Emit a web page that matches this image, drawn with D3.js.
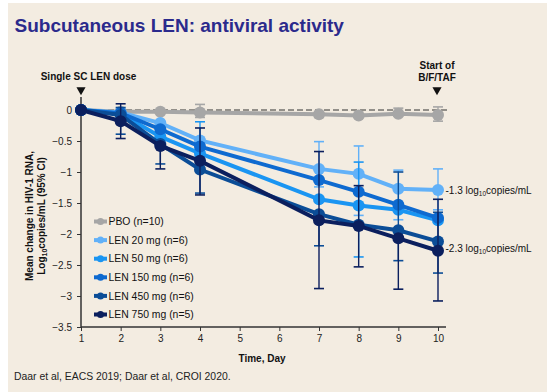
<!DOCTYPE html>
<html><head><meta charset="utf-8">
<script src="https://cdn.jsdelivr.net/npm/d3@7"></script>
<style>body{margin:0;background:#fff}svg{display:block;font-family:Arial,"Liberation Sans",sans-serif}</style>
</head><body><svg id="c" width="550" height="392"></svg>
<script>
const days = [1, 2, 3, 4, 7, 8, 9, 10];
const xTicks = [1, 2, 3, 4, 5, 6, 7, 8, 9, 10];
const yTicks = [0, -0.5, -1, -1.5, -2, -2.5, -3, -3.5];
const seriesNames = ["PBO (n=10)", "LEN 20 mg (n=6)", "LEN 50 mg (n=6)", "LEN 150 mg (n=6)", "LEN 450 mg (n=6)", "LEN 750 mg (n=5)"];
const seriesColors = ["#a6a6a6", "#62b1f8", "#1a95f2", "#0e6ad0", "#0b4d97", "#0b1f5e"];
const pbo    = [0, -0.03, -0.03, -0.04, -0.07, -0.09, -0.06, -0.08];
const len20  = [0, -0.04, -0.21, -0.49, -0.95, -1.03, -1.27, -1.29];
const len50  = [0, -0.06, -0.43, -0.70, -1.44, -1.54, -1.61, -1.78];
const len150 = [0, -0.05, -0.31, -0.59, -1.13, -1.32, -1.53, -1.74];
const len450 = [0, -0.08, -0.55, -0.96, -1.68, -1.85, -1.94, -2.12];
const len750 = [0, -0.18, -0.58, -0.82, -1.78, -1.87, -2.07, -2.27];
// 95% CI bounds (null = not visible)
const pboLo  = [null, null, null, -0.12, -0.12, -0.12, -0.10, -0.18];
const pboHi  = [null, null, null, 0.09, null, null, 0.03, 0.05];
const len20Lo = [null, null, null, null, -1.24, -1.70, -1.77, -1.61];
const len20Hi = [null, null, null, null, -0.51, -0.58, -0.97, -0.95];
const len50Lo = [null, null, null, null, null, -2.37, null, null];
const len50Hi = [null, null, null, -0.19, null, -0.84, null, null];
const len150Lo = [null, null, null, null, null, null, null, null];
const len150Hi = [null, null, null, null, null, null, null, null];
const len450Lo = [null, -0.39, -0.87, -1.34, -2.19, null, -2.43, -2.63];
const len450Hi = [null, 0.04, null, null, null, null, -1.00, -1.65];
const len750Lo = [null, -0.46, -0.95, -1.37, -2.88, -2.53, -2.89, -3.08];
const len750Hi = [null, 0.10, null, -0.29, -0.67, -1.22, null, -1.44];

const seriesVals = [pbo, len20, len50, len150, len450, len750];
const seriesLo = [pboLo, len20Lo, len50Lo, len150Lo, len450Lo, len750Lo];
const seriesHi = [pboHi, len20Hi, len50Hi, len150Hi, len450Hi, len750Hi];

const FONT = "Arial, 'Liberation Sans', sans-serif";
const svg = d3.select("#c");
svg.append("rect").attr("x", 8).attr("y", 3).attr("width", 539).attr("height", 389).attr("fill", "#f3ece1");

svg.append("text").attr("x", 14.5).attr("y", 32).attr("fill", "#2b2a8c")
  .attr("font-size", 19).attr("font-weight", "bold").text("Subcutaneous LEN: antiviral activity");

const x = d3.scaleLinear().domain([1, 10]).range([81, 438]);
const y = d3.scaleLinear().domain([0, -3.5]).range([110, 327]);

// axes
const yAxis = svg.append("g").attr("transform", "translate(81,0)")
  .call(d3.axisLeft(y).tickValues(yTicks).tickSize(4).tickFormat(d => d === 0 ? "0" : d3.format("")(d)));
yAxis.select(".domain").remove();
svg.append("line").attr("x1", 81).attr("x2", 81).attr("y1", 97).attr("y2", 327).attr("stroke", "#333").attr("stroke-width", 1.5);
yAxis.selectAll(".tick line").attr("stroke", "#333");
yAxis.selectAll(".tick text").attr("font-size", 10).attr("fill", "#222").attr("x", -9).attr("font-family", FONT);

const xAxis = svg.append("g").attr("transform", "translate(0,327)")
  .call(d3.axisBottom(x).tickValues(xTicks).tickSize(4).tickFormat(d3.format("d")));
xAxis.select(".domain").remove();
svg.append("line").attr("x1", 81).attr("x2", 446).attr("y1", 327).attr("y2", 327).attr("stroke", "#333").attr("stroke-width", 1.5);
xAxis.selectAll(".tick line").attr("stroke", "#333");
xAxis.selectAll(".tick text").attr("font-size", 10).attr("fill", "#222").attr("y", 7.5).attr("font-family", FONT);

svg.append("text").attr("x", 262).attr("y", 362).attr("text-anchor", "middle").attr("font-size", 10)
  .attr("font-weight", "bold").attr("fill", "#111").text("Time, Day");

const yl = svg.append("text").attr("transform", "translate(0,216) rotate(-90)").attr("text-anchor", "middle")
  .attr("font-size", 10).attr("font-weight", "bold").attr("fill", "#111");
yl.append("tspan").attr("x", 0).attr("y", 33).text("Mean change in HIV-1 RNA,");
const t2 = yl.append("tspan").attr("x", 0).attr("y", 45);
t2.append("tspan").text("Log");
t2.append("tspan").attr("font-size", 7).attr("dy", 2).text("10");
t2.append("tspan").attr("dy", -2).text("copies/mL (95% CI)");

// dashed zero line
svg.append("line").attr("x1", x(1)).attr("x2", 447).attr("y1", y(0)).attr("y2", y(0))
  .attr("stroke", "#333").attr("stroke-width", 1.2).attr("stroke-dasharray", "6,3");

// dose markers
const tri = d3.symbol().type(d3.symbolTriangle).size(36);
function marker(cx) {
  svg.append("path").attr("d", tri()).attr("transform", `translate(${cx},90) rotate(180)`).attr("fill", "#111");
}
marker(x(1)); marker(x(10) - 1);
svg.append("text").attr("x", x(1) + 7.5).attr("y", 79.5).attr("text-anchor", "middle").attr("font-size", 10).attr("font-weight", "bold").attr("fill", "#111").text("Single SC LEN dose");
svg.append("text").attr("x", x(10) - 1).attr("y", 68.5).attr("text-anchor", "middle").attr("font-size", 10).attr("font-weight", "bold").attr("fill", "#111").text("Start of");
svg.append("text").attr("x", x(10) - 1).attr("y", 81).attr("text-anchor", "middle").attr("font-size", 10).attr("font-weight", "bold").attr("fill", "#111").text("B/F/TAF");

const line = d3.line().x((d, i) => x(days[i])).y(d => y(d));

seriesVals.forEach((vals, s) => {
  const g = svg.append("g");
  const c = seriesColors[s];
  days.forEach((d, i) => {
    const lo = seriesLo[s][i], hi = seriesHi[s][i];
    if (lo == null && hi == null) return;
    const top = hi != null ? hi : vals[i];
    const bot = lo != null ? lo : vals[i];
    g.append("line").attr("x1", x(d)).attr("x2", x(d)).attr("y1", y(top)).attr("y2", y(bot)).attr("stroke", c).attr("stroke-width", 1.4);
    [lo, hi].forEach(v => { if (v != null) g.append("line").attr("x1", x(d) - 5).attr("x2", x(d) + 5).attr("y1", y(v)).attr("y2", y(v)).attr("stroke", c).attr("stroke-width", 1.6); });
  });
  g.append("path").datum(vals).attr("d", line).attr("fill", "none").attr("stroke", c).attr("stroke-width", 4);
  g.selectAll("circle").data(vals).join("circle").attr("cx", (d, i) => x(days[i])).attr("cy", d => y(d)).attr("r", 6).attr("fill", c);
});

// legend
const leg = svg.append("g");
seriesNames.forEach((n, i) => {
  const ly = 221.5 + i * 18.6;
  leg.append("line").attr("x1", 94).attr("x2", 107).attr("y1", ly).attr("y2", ly).attr("stroke", seriesColors[i]).attr("stroke-width", 4);
  leg.append("circle").attr("cx", 100.5).attr("cy", ly).attr("r", 3.5).attr("fill", seriesColors[i]);
  leg.append("text").attr("x", 108.5).attr("y", ly + 3.7).attr("font-size", 10.4).attr("fill", "#111").text(n);
});

// annotations
function annot(val, yy) {
  const t = svg.append("text").attr("x", 445.5).attr("y", yy).attr("font-size", 10).attr("fill", "#111");
  t.append("tspan").text(val + " log");
  t.append("tspan").attr("font-size", 6.5).attr("dy", 2).text("10");
  t.append("tspan").attr("dy", -2).text("copies/mL");
}
annot("-1.3", y(-1.3) + 3.8);
annot("-2.3", y(-2.23) + 3.8);

svg.append("text").attr("x", 14).attr("y", 380).attr("font-size", 10.4).attr("fill", "#222").text("Daar et al, EACS 2019; Daar et al, CROI 2020.");
</script></body></html>
